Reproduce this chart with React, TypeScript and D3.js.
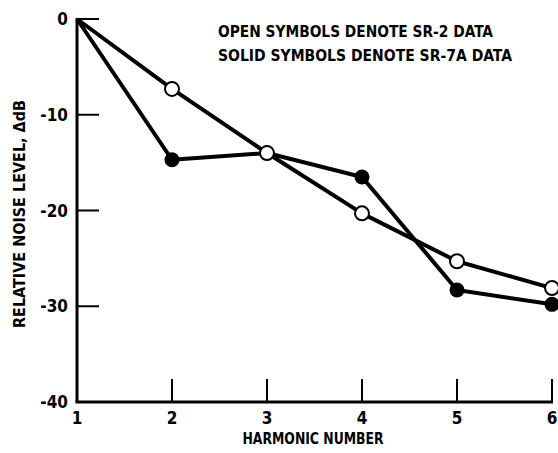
import React from "react";
import * as d3 from "d3";

const harmonics = [1, 2, 3, 4, 5, 6];
const sr2Values = [0, -7.3, -14.0, -20.3, -25.3, -28.1];
const sr7aValues = [0, -14.7, -14.0, -16.5, -28.3, -29.8];
const yTicks = [0, -10, -20, -30, -40];
const xTicks = [1, 2, 3, 4, 5, 6];
const noteLines = ["OPEN SYMBOLS DENOTE SR-2 DATA", "SOLID SYMBOLS DENOTE SR-7A DATA"];
const noteWidths = [275, 294];

const W = 558;
const H = 453;
const FONT = "'DejaVu Sans Condensed', 'DejaVu Sans', sans-serif";

export default function App() {
  const x = d3.scaleLinear().domain([1, 6]).range([77, 552]);
  const y = d3.scaleLinear().domain([0, -40]).range([19, 402]);
  const line = d3
    .line<number>()
    .x((_, i) => x(harmonics[i]))
    .y((d) => y(d));

  return (
    <svg
      width={W}
      height={H}
      style={{ position: "absolute", left: 0, top: 0, background: "#fff" }}
      fontFamily={FONT}
      fontWeight="bold"
    >
      {/* axes */}
      <line x1={x(1)} x2={x(1)} y1={y(0) - 1} y2={y(-40)} stroke="#000" strokeWidth={3} />
      <line x1={x(1) - 1.5} x2={x(6) + 1} y1={y(-40)} y2={y(-40)} stroke="#000" strokeWidth={3} />
      {yTicks.map((t) => (
        <g key={"y" + t}>
          {t !== -40 && (
            <line x1={x(1)} x2={x(1) + 22} y1={y(t)} y2={y(t)} stroke="#000" strokeWidth={2} />
          )}
          <text x={x(1) - 9} y={y(t)} dy="0.36em" textAnchor="end" fontSize={17}>
            {t === 0 ? "0" : "-" + Math.abs(t)}
          </text>
        </g>
      ))}
      {xTicks.map((t) => (
        <g key={"x" + t}>
          {t !== 1 && (
            <line x1={x(t)} x2={x(t)} y1={y(-40)} y2={y(-40) - 23} stroke="#000" strokeWidth={2} />
          )}
          <text x={x(t)} y={y(-40) + 22} textAnchor="middle" fontSize={17}>
            {t}
          </text>
        </g>
      ))}
      <text x={313} y={444} textAnchor="middle" fontSize={16} textLength={141} lengthAdjust="spacingAndGlyphs">
        HARMONIC NUMBER
      </text>
      <text
        transform={`translate(25,${214}) rotate(-90)`}
        textAnchor="middle"
        fontSize={16}
        textLength={228}
        lengthAdjust="spacingAndGlyphs"
      >
        RELATIVE NOISE LEVEL, ΔdB
      </text>
      {noteLines.map((s, i) => (
        <text
          key={s}
          x={218}
          y={37 + i * 24}
          fontSize={16}
          textLength={noteWidths[i]}
          lengthAdjust="spacingAndGlyphs"
        >
          {s}
        </text>
      ))}

      {/* series */}
      <path d={line(sr2Values) || ""} fill="none" stroke="#000" strokeWidth={4} strokeLinejoin="round" />
      <path d={line(sr7aValues) || ""} fill="none" stroke="#000" strokeWidth={4} strokeLinejoin="round" />
      {sr7aValues.slice(1).map((v, i) => (
        <circle key={"s" + i} cx={x(harmonics[i + 1])} cy={y(v)} r={7.5} fill="#000" />
      ))}
      {sr2Values.slice(1).map((v, i) => (
        <circle key={"o" + i} cx={x(harmonics[i + 1])} cy={y(v)} r={7} fill="#fff" stroke="#000" strokeWidth={2} />
      ))}
    </svg>
  );
}
